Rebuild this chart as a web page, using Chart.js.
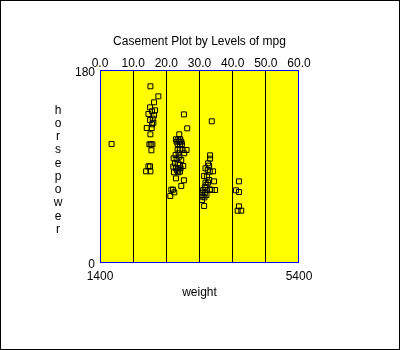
<!DOCTYPE html>
<html>
<head>
<meta charset="utf-8">
<script src="https://cdn.jsdelivr.net/npm/chart.js@4/dist/chart.umd.min.js"></script>
<style>
  html, body { margin: 0; padding: 0; background: #ffffff; }
  canvas { display: block; }
</style>
</head>
<body>
<canvas id="chart" width="400" height="350"></canvas>
<script>
// mpg level (top scale) and horsepower for each car
const mpg = [
  3.5,
  15.2, 17.6, 16.3, 15.1, 16.6, 15.7, 14.6, 16.3, 15.9, 15.1, 16.1, 15.7, 14.1, 15.6,
  15.2, 14.9, 15.3, 15.8, 15.5, 14.6, 15.1, 13.9, 15.2,
  25.3, 26.3, 23.9, 22.9, 23.6, 24.2, 23.1, 23.9, 24.5, 23.4, 24.1, 24.7,
  23.4, 24.1, 24.9, 26.1, 23.7, 25.4, 22.8, 23.9, 22.2, 23.1, 24.5, 22.6, 23.6,
  24.1, 25.1, 22.1, 22.9, 23.6, 24.3, 23.3, 22.3, 23.6, 24.1, 22.9, 25.3, 24.5,
  21.5, 22.0, 22.4, 21.2,
  33.7, 33.2, 33.2, 32.6, 32.9, 31.8, 32.5, 34.1, 33.1, 31.4, 32.3, 32.9, 34.4,
  31.8, 32.6, 32.1, 31.6, 33.1, 31.1, 32.1, 33.7, 34.7, 30.9, 31.6, 32.1, 30.9,
  31.5, 30.8, 31.4,
  41.9, 41.0, 41.9, 41.9, 41.5, 42.6
];
const horsepower = [
  110.6,
  164.7, 155.3, 149.7, 145.0, 142.2, 141.3, 138.8, 137.5, 134.4, 133.1, 130.6, 129.1, 125.6, 125.6,
  119.7, 110.3, 110.3, 110.3, 104.7, 89.7, 89.7, 85.0, 85.0,
  138.4, 125.3, 119.7, 115.0, 115.0, 115.0, 112.8, 112.8, 112.8, 110.6, 110.6, 110.6,
  105.0, 105.0, 105.0, 105.0, 101.9, 101.9, 100.3, 98.8, 97.2, 96.3, 95.6, 92.5, 92.5,
  90.9, 90.0, 89.4, 87.8, 87.8, 87.8, 85.6, 84.1, 84.1, 84.7, 78.4, 76.6, 71.3,
  67.8, 67.8, 65.3, 61.9,
  131.9, 100.0, 96.9, 92.5, 90.3, 87.8, 86.3, 85.0, 84.7, 80.6, 80.0, 76.9, 75.6,
  74.4, 74.4, 72.2, 70.0, 68.1, 67.5, 67.5, 67.5, 67.5, 65.0, 64.4, 62.8, 61.3,
  60.6, 58.1, 52.5,
  75.6, 67.2, 65.6, 52.2, 48.1, 48.1
];

// axis tick values
const mpgTicks = [0, 10, 20, 30, 40, 50, 60];
const weightTicks = [1400, 5400];
const hpTicks = [0, 180];

const FONT = { family: 'Arial, "Liberation Sans", sans-serif', size: 12 };

const frame = {
  id: 'frame',
  beforeDraw(chart) {
    const { ctx, chartArea: a } = chart;
    ctx.save();
    ctx.fillStyle = '#ffffff';
    ctx.fillRect(0, 0, chart.width, chart.height);
    ctx.fillStyle = '#ffff00';
    ctx.fillRect(a.left, a.top, a.right - a.left, a.bottom - a.top);
    ctx.restore();
  },
  afterDraw(chart) {
    const { ctx, chartArea: a } = chart;
    ctx.save();
    ctx.strokeStyle = '#0000ff';
    ctx.lineWidth = 1;
    ctx.strokeRect(Math.round(a.left) + 0.5, Math.round(a.top) + 0.5,
                   Math.round(a.right - a.left) - 1, Math.round(a.bottom - a.top));
    ctx.strokeStyle = '#000000';
    ctx.strokeRect(0.5, 0.5, chart.width - 1, chart.height - 1);
    // vertical, letter-stacked y-axis title
    ctx.fillStyle = '#000000';
    ctx.font = FONT.size + 'px ' + FONT.family;
    ctx.textAlign = 'center';
    ctx.textBaseline = 'alphabetic';
    const word = 'horsepower';
    for (let i = 0; i < word.length; i++) {
      ctx.fillText(word[i], 58, 113.5 + i * 13.25);
    }
    ctx.restore();
  }
};

new Chart(document.getElementById('chart'), {
  type: 'scatter',
  data: {
    datasets: [{
      data: mpg.map((m, i) => ({ x: m, y: horsepower[i] })),
      xAxisID: 'x',
      yAxisID: 'y',
      pointStyle: 'rect',
      pointRadius: 3.5,
      pointHoverRadius: 3.5,
      borderColor: '#000000',
      backgroundColor: 'rgba(0,0,0,0)',
      borderWidth: 1
    }]
  },
  options: {
    responsive: false,
    animation: false,
    events: [],
    layout: { padding: { left: 0, right: 101, top: 0, bottom: 0 } },
    plugins: { legend: { display: false }, tooltip: { enabled: false }, title: { display: false } },
    scales: {
      x: {
        type: 'linear',
        position: 'top',
        min: 0, max: 60,
        afterBuildTicks: s => { s.ticks = mpgTicks.map(v => ({ value: v })); },
        afterFit: s => { s.height = 70; },
        ticks: { color: '#000000', font: FONT, padding: -1, maxRotation: 0,
                 callback: v => Number(v).toFixed(1) },
        grid: {
          drawTicks: false,
          lineWidth: 1,
          color: c => (c.tick && (c.tick.value === 0 || c.tick.value === 60)) ? 'rgba(0,0,0,0)' : '#000000'
        },
        border: { display: false },
        title: { display: true, text: 'Casement Plot by Levels of mpg', color: '#000000',
                 font: FONT, padding: { top: 34, bottom: 0 } }
      },
      xw: {
        type: 'linear',
        position: 'bottom',
        min: 1400, max: 5400,
        afterBuildTicks: s => { s.ticks = weightTicks.map(v => ({ value: v })); },
        afterFit: s => { s.height = 88; },
        ticks: { color: '#000000', font: FONT, padding: 7, maxRotation: 0,
                 callback: v => String(v) },
        grid: { display: false, drawTicks: false },
        border: { display: false },
        title: { display: true, text: 'weight', color: '#000000', font: FONT,
                 padding: { top: 0, bottom: 50 } }
      },
      y: {
        type: 'linear',
        position: 'left',
        min: 0, max: 180,
        afterBuildTicks: s => { s.ticks = hpTicks.map(v => ({ value: v })); },
        afterFit: s => { s.width = 100; },
        ticks: { color: '#000000', font: FONT, padding: 5, labelOffset: 3,
                 callback: v => String(v) },
        grid: { display: false, drawTicks: false },
        border: { display: false }
      }
    }
  },
  plugins: [frame]
});
</script>
</body>
</html>
